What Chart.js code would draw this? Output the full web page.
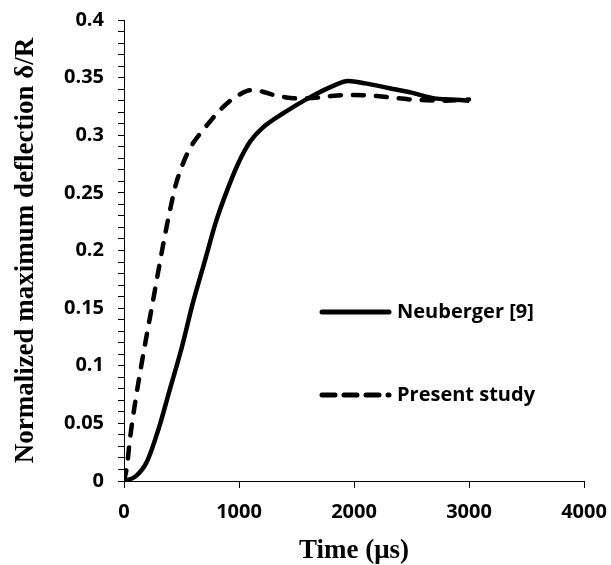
<!DOCTYPE html>
<html>
<head>
<meta charset="utf-8">
<script src="https://cdn.jsdelivr.net/npm/chart.js"></script>
<style>
  body { margin: 0; background: #fff; }
  #wrap { width: 611px; height: 565px; }
</style>
</head>
<body>
<div id="wrap"><canvas id="deflChart" width="611" height="565"></canvas></div>
<script>
// Neuberger [9] reference curve
const timeNeuberger = [0, 100, 200, 300, 400, 500, 600, 700, 800, 900, 1000, 1100, 1200, 1400, 1600, 1800, 1950, 2100, 2300, 2500, 2700, 2850, 3000];
const neuberger = [0, 0.004, 0.017, 0.045, 0.08, 0.115, 0.155, 0.19, 0.225, 0.253, 0.277, 0.295, 0.306, 0.32, 0.332, 0.342, 0.347, 0.345, 0.341, 0.337, 0.332, 0.331, 0.330];

// present study curve
const timePresent = [0, 25, 50, 100, 150, 200, 250, 300, 350, 400, 450, 500, 550, 600, 700, 800, 900, 1000, 1100, 1200, 1300, 1400, 1500, 1600, 1800, 2000, 2200, 2500, 2800, 3000];
const present = [0, 0.012, 0.035, 0.07, 0.1, 0.128, 0.155, 0.183, 0.21, 0.235, 0.257, 0.272, 0.284, 0.293, 0.306, 0.318, 0.328, 0.335, 0.339, 0.338, 0.335, 0.333, 0.332, 0.332, 0.334, 0.335, 0.334, 0.331, 0.330, 0.331];

const seriesNames = ['Neuberger [9]', 'Present study'];

const tickFont = { family: "'Open Sans', 'Noto Sans', sans-serif", weight: 'bold', size: 20 };
const titleFont = { family: "'Liberation Serif', 'Times New Roman', serif", weight: 'bold', size: 27, lineHeight: 1 };

function toPoints(xs, ys) {
  return xs.map((x, i) => ({ x: x, y: ys[i] }));
}

// legend drawn inside the plot, right of the curves
const innerLegend = {
  id: 'innerLegend',
  afterDraw(chart) {
    const ctx = chart.ctx;
    const area = chart.chartArea;
    const x0 = area.left + 198;
    const rows = [area.top + 292, area.top + 375];
    const dashes = [[], [13, 9]];
    chart.data.datasets.forEach((ds, i) => {
      const y = rows[i];
      ctx.save();
      ctx.strokeStyle = ds.borderColor;
      ctx.lineWidth = 5;
      ctx.lineCap = 'round';
      ctx.setLineDash(dashes[i]);
      ctx.beginPath();
      ctx.moveTo(x0, y);
      ctx.lineTo(x0 + 67, y);
      ctx.stroke();
      ctx.setLineDash([]);
      ctx.fillStyle = '#000';
      ctx.font = "bold 20px 'Open Sans', 'Noto Sans', sans-serif";
      ctx.textBaseline = 'middle';
      ctx.fillText(ds.label, x0 + 75, y);
      ctx.restore();
    });
  }
};

new Chart(document.getElementById('deflChart'), {
  type: 'line',
  data: {
    datasets: [
      {
        label: seriesNames[0],
        data: toPoints(timeNeuberger, neuberger),
        borderColor: '#000',
        borderWidth: 4.5,
        pointRadius: 0,
        cubicInterpolationMode: 'monotone',
        fill: false
      },
      {
        label: seriesNames[1],
        data: toPoints(timePresent, present),
        borderColor: '#000',
        borderWidth: 4.5,
        borderDash: [11, 12],
        borderCapStyle: 'round',
        pointRadius: 0,
        cubicInterpolationMode: 'monotone',
        fill: false
      }
    ]
  },
  options: {
    responsive: false,
    animation: false,
    layout: { padding: { top: 20, right: 27, left: 0, bottom: 0 } },
    plugins: {
      legend: { display: false },
      tooltip: { enabled: false }
    },
    scales: {
      x: {
        type: 'linear',
        min: 0,
        max: 4000,
        afterFit(scale) {
          scale.height = 84;
          scale.paddingLeft = 0;
          scale.paddingRight = 0;
        },
        ticks: {
          stepSize: 1000,
          color: '#000',
          font: tickFont,
          padding: 12,
          maxRotation: 0,
          callback(value) { return String(value); }
        },
        grid: { drawOnChartArea: false, tickLength: 7, color: '#000' },
        border: { color: '#000', width: 1 },
        title: {
          display: true,
          text: 'Time (μs)',
          color: '#000',
          font: titleFont,
          padding: { top: 0, bottom: 0 }
        }
      },
      y: {
        min: 0,
        max: 0.4,
        afterFit(scale) {
          scale.width = 124;
          scale.paddingTop = 0;
          scale.paddingBottom = 0;
        },
        ticks: {
          stepSize: 0.01,
          autoSkip: false,
          color: '#000',
          font: tickFont,
          padding: 14,
          callback(value) {
            const hundredths = Math.round(value * 100);
            if (hundredths % 5 !== 0) return '';
            return String(parseFloat(value.toFixed(2)));
          }
        },
        grid: { drawOnChartArea: false, tickLength: 6, color: '#000' },
        border: { color: '#000', width: 1 },
        title: {
          display: true,
          text: 'Normalized maximum deflection δ/R',
          color: '#000',
          font: titleFont,
          padding: { top: 13, bottom: 0 }
        }
      }
    }
  },
  plugins: [innerLegend]
});
</script>
</body>
</html>
